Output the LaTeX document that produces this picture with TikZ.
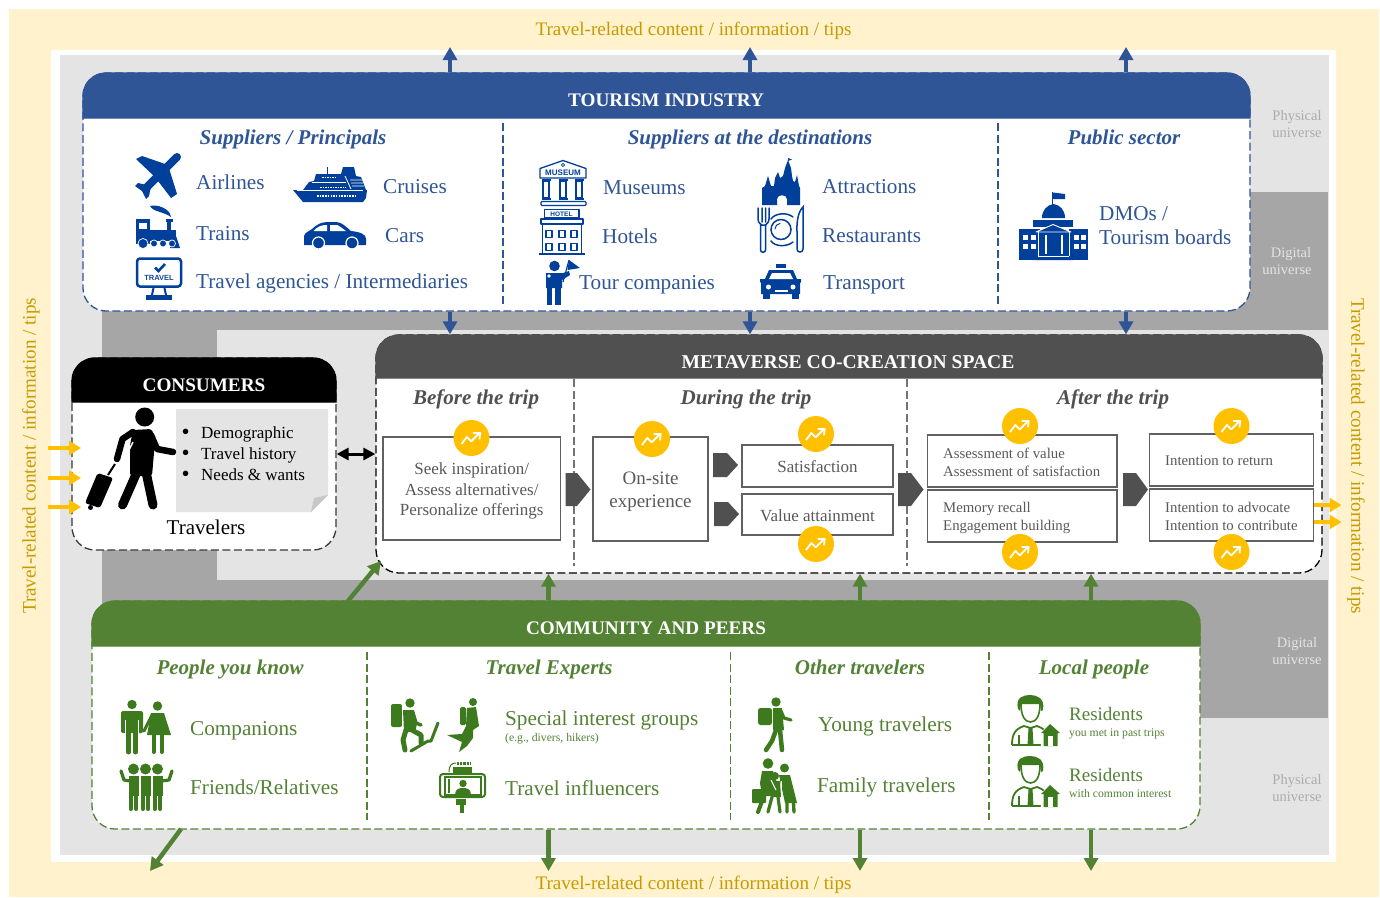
\documentclass[tikz,border=0pt]{standalone}
\usepackage{fontspec}
\setmainfont{Liberation Serif}
\newfontfamily\iconfont{Liberation Sans}
\usetikzlibrary{arrows.meta,calc,shapes.geometric}
\definecolor{tblue}{HTML}{2F5597}
\definecolor{iblue}{HTML}{00409A}
\definecolor{tgreen}{HTML}{548235}
\definecolor{igreen}{HTML}{3D7A1E}
\definecolor{mgray}{HTML}{505050}
\definecolor{boxtxt}{HTML}{595959}
\definecolor{goldt}{HTML}{C79A00}
\definecolor{ybg}{HTML}{FFF2CC}
\definecolor{yarrow}{HTML}{FFC000}
\definecolor{phys}{HTML}{E4E4E4}
\definecolor{digi}{HTML}{A6A6A6}
\newcommand\fz[2]{\fontsize{#1}{#2}\selectfont}
\newcommand\hdr[6]{\fill[#1,draw=#1,line width=1.3pt] (#2,#5) -- (#2,{#3+#6}) .. controls (#2,{#3+0.45*#6}) and ({#2+0.45*#6},#3) .. ({#2+#6},#3) -- ({#4-#6},#3) .. controls ({#4-0.45*#6},#3) and (#4,{#3+0.45*#6}) .. (#4,{#3+#6}) -- (#4,#5) -- cycle;}
\newcommand\trend[3]{\node[trendc] (#1) at (#2,#3) {};
  \begin{scope}[shift={(#2,#3)}]
  \draw[white,line width=1.8pt,line join=round] (-10,6) -- (-4.7,-1) -- (-0.3,3.3) -- (7.3,-4.3);
  \draw[white,line width=1.8pt,line join=round] (1.5,-5) -- (8.7,-5) -- (8,1.3);
  \end{scope}}
\newcommand\resident[1]{\begin{scope}[shift={(0,#1)}]
  \fill[igreen] (1018,709) .. controls (1015,697) and (1024,695) .. (1030,695) .. controls (1037,695) and (1045,698) .. (1043,710) -- (1041,711) -- (1040,704) -- (1021,704) -- (1020,711) -- cycle;
  \draw[igreen,line width=1.6pt] (1021,704) .. controls (1021,716) and (1025,722) .. (1030.5,722) .. controls (1036,722) and (1040,716) .. (1040,704);
  \draw[igreen,line width=1.8pt,line join=round] (1012,745) .. controls (1012,734) and (1015,729) .. (1024,726) -- (1030.5,728) -- (1037,726) .. controls (1043,728) and (1046,731) .. (1047,734);
  \draw[igreen,line width=1.8pt] (1012,745) -- (1044,745);
  \fill[igreen] (1028.5,728) -- (1032.5,728) -- (1033.5,745) -- (1027.5,745) -- cycle;
  \draw[igreen,line width=1.4pt] (1019,745) -- (1019,735);
  \fill[white] (1040,734) -- (1050,722) -- (1062,734) -- (1058,747) -- (1041,747) -- cycle;
  \fill[igreen] (1041,733) -- (1050,724) -- (1060,733) -- (1057.5,733) -- (1057.5,746) -- (1043.5,746) -- (1043.5,733) -- cycle;
  \fill[white] (1048,736) rectangle (1053,746);
  \end{scope}}
\tikzset{
  panel/.style={draw=#1,fill=white,line width=1.3pt,dash pattern=on 8pt off 3.5pt,rounded corners=23pt,inner sep=0pt},
  divider/.style={draw=#1,line width=1.2pt,dash pattern=on 8pt off 3.5pt},
  hd/.style={font=\bfseries\fz{19.2}{23},text=white,inner sep=0pt},
  sec/.style={font=\bfseries\itshape\fz{21}{25},inner sep=0pt,yshift=-2pt,execute at begin node=\strut},
  lbl/.style={font=\fz{21.2}{25},inner sep=0pt,anchor=west,yshift=-2pt,execute at begin node=\strut},
  small/.style={font=\fz{11.7}{14},inner sep=0pt,anchor=west,yshift=-2pt,execute at begin node=\strut},
  uni/.style={font=\fz{14.5}{17},inner sep=0pt,align=center},
  yellowtxt/.style={font=\fz{19.1}{23},text=goldt,inner sep=0pt},
  stagebox/.style={draw=#1,fill=white,line width=1.5pt,inner sep=0pt},
  stagetxt/.style={text=boxtxt,inner sep=0pt,align=center},
  lefttxt/.style={text=boxtxt,font=\fz{14.8}{18},align=left,inner sep=0pt,anchor=west},
  trendc/.style={circle,fill=yarrow,minimum size=36pt,inner sep=0pt},
  homep/.style={fill=mgray},
  bluearr/.style={draw=tblue,line width=4.5pt,-{Triangle[width=14pt,length=13pt]}},
  greenarr/.style={draw=tgreen,line width=4.5pt,-{Triangle[width=14pt,length=13pt]}},
  yelarr/.style={draw=yarrow,line width=4pt,-{Triangle[width=14pt,length=12pt]}},
  blackarr/.style={draw=black,line width=3pt,{Triangle[width=12pt,length=12pt]}-{Triangle[width=12pt,length=12pt]}},
  ib/.style={fill=iblue,draw=none},
  ig/.style={fill=igreen,draw=none},
}
\begin{document}
\begin{tikzpicture}[x=1pt,y=-1pt,line cap=butt]
\useasboundingbox (0,0) rectangle (1380,897);
% backgrounds
\fill[ybg] (9,9) rectangle (1379,897);
\fill[white] (51,50) rectangle (1336,862);
\fill[phys] (60,55) rectangle (1329,855);
\fill[digi] (102,192) rectangle (1328,718);
\fill[phys] (217,330) rectangle (1329,580);
% universe labels
\node[uni,text=phys!75!black] (p1) at (1297,124.5) {Physical\\universe};
\node[uni,text=phys] (d1a) at (1291,254) {Digital};
\node[uni,text=phys] (d1b) at (1287,269.5) {universe};
\node[uni,text=phys] (d2) at (1297,651.5) {Digital\\universe};
\node[uni,text=phys!75!black] (p2) at (1297,788.5) {Physical\\universe};
% outer texts
\node[yellowtxt] (ytop) at (693.5,31) {Travel-related content / information / tips};
\node[yellowtxt] (ybot) at (693.5,885) {Travel-related content / information / tips};
\node[yellowtxt,rotate=90] (yleft) at (31,456) {Travel-related content / information / tips};
\node[yellowtxt,rotate=-90] (yright) at (1356,456) {Travel-related content / information / tips};

% PANELS
\node[panel=tblue,minimum width=1167pt,minimum height=238pt] (tour) at (666.5,192) {};
\node[panel=mgray!70!black,minimum width=264pt,minimum height=192pt] (cons) at (204,454) {};
\node[panel=black,minimum width=946pt,minimum height=238pt] (meta) at (849,454) {};
\node[panel=tgreen,minimum width=1108pt,minimum height=228pt] (comm) at (646,715) {};
\hdr{tblue}{83}{73}{1250}{118}{23}
\hdr{black}{72}{358}{336}{402}{23}
\hdr{mgray}{376}{335}{1322}{378}{23}
\hdr{tgreen}{92}{601}{1200}{646}{23}
\node[hd] (tourh) at (666,100) {TOURISM INDUSTRY};
\node[hd] (consh) at (204,385) {CONSUMERS};
\node[hd,font=\bfseries\fz{19.6}{23}] (metah) at (848,362) {METAVERSE CO-CREATION SPACE};
\node[hd] (commh) at (646,628) {COMMUNITY AND PEERS};

% dividers
\draw[divider=tblue] (503,123) -- (503,305);
\draw[divider=tblue] (998,123) -- (998,305);
\draw[divider=mgray!80] (574,379) -- (574,566);
\draw[divider=mgray!80] (907,379) -- (907,566);
\draw[divider=tgreen] (367,652) -- (367,820);
\draw[divider=tgreen] (730.5,652) -- (730.5,820);
\draw[divider=tgreen] (989,652) -- (989,820);

% CONNECTORS
\coordinate (ta1) at (450,47);
\coordinate (ta2) at (750,47);
\coordinate (ta3) at (1126,47);
\draw[bluearr] (tour.north -| ta1) -- (ta1);
\draw[bluearr] (tour.north -| ta2) -- (ta2);
\draw[bluearr] (tour.north -| ta3) -- (ta3);
\draw[bluearr] (tour.south -| ta1) -- (meta.north -| ta1);
\draw[bluearr] (tour.south -| ta2) -- (meta.north -| ta2);
\draw[bluearr] (tour.south -| ta3) -- (meta.north -| ta3);
\draw[blackarr] (cons.east) -- (meta.west);
\coordinate (gu0a) at (348,601);
\coordinate (gu0) at (381,561);
\coordinate (gu1) at (548.5,574);
\coordinate (gu2) at (860,574);
\coordinate (gu3) at (1091,574);
\draw[greenarr] (gu0a) -- (gu0);
\draw[greenarr] (comm.north -| gu1) -- (meta.south -| gu1);
\draw[greenarr] (comm.north -| gu2) -- (meta.south -| gu2);
\draw[greenarr] (comm.north -| gu3) -- (meta.south -| gu3);
\coordinate (gd0a) at (181,829);
\coordinate (gd0) at (150,871);
\coordinate (gd1) at (548.5,871);
\coordinate (gd2) at (860,871);
\coordinate (gd3) at (1091,871);
\draw[greenarr] (gd0a) -- (gd0);
\draw[greenarr] (comm.south -| gd1) -- (gd1);
\draw[greenarr] (comm.south -| gd2) -- (gd2);
\draw[greenarr] (comm.south -| gd3) -- (gd3);
\coordinate (yl1a) at (48,448); \coordinate (yl1) at (81,448);
\coordinate (yl2a) at (48,478); \coordinate (yl2) at (81,478);
\coordinate (yl3a) at (48,507); \coordinate (yl3) at (81,507);
\draw[yelarr] (yl1a) -- (yl1);
\draw[yelarr] (yl2a) -- (yl2);
\draw[yelarr] (yl3a) -- (yl3);

% TOURISM text
\begin{scope}[text=tblue]
\node[sec] (s1) at (293,137) {Suppliers / Principals};
\node[sec] (s2) at (750,137) {Suppliers at the destinations};
\node[sec] (s3) at (1124,137) {Public sector};
\node[lbl] (airl) at (196,182) {Airlines};
\node[lbl] (crui) at (383,186) {Cruises};
\node[lbl] (trai) at (196,233) {Trains};
\node[lbl] (cars) at (385,235) {Cars};
\node[lbl] (agen) at (196,281.5) {Travel agencies / Intermediaries};
\node[lbl] (muse) at (603,187.5) {Museums};
\node[lbl] (attr) at (822,186.5) {Attractions};
\node[lbl] (hote) at (602,236) {Hotels};
\node[lbl] (rest) at (822,235) {Restaurants};
\node[lbl] (tcom) at (579,282) {Tour companies};
\node[lbl] (tran) at (823,282) {Transport};
\node[lbl] (dmo1) at (1099,213) {DMOs /};
\node[lbl] (dmo2) at (1099,237.5) {Tourism boards};
\end{scope}

% plane
\fill[ib] (136,159) -- (142,156) -- (168,165) -- (177,194) -- (171,198) -- (155,177) -- cycle;
\draw[iblue,line width=8pt,line cap=round] (177,157) -- (146,188);
\fill[ib] (135,186) -- (138,183) -- (151,186) -- (149,196) -- (146,199) -- (142,191) -- cycle;
% ship
\fill[ib] (293,190) -- (367,190) -- (366,198) -- (363,202) -- (303,202) -- cycle;
\fill[ib] (303,190) -- (309,182) -- (314,181) -- (316,174) -- (341,174) -- (343,167) -- (354,167) -- (356,176) -- (361,177) -- (366,190) -- cycle;
\draw[iblue,line width=1pt] (327,167) -- (327,174);
\draw[white,line width=1.5pt,dash pattern=on 1.5pt off 1.2pt] (317,196) -- (357,196);
\draw[white,line width=1pt,dash pattern=on 1.5pt off 1pt] (320,187) -- (346,187);
\draw[white,line width=1pt] (312,182.5) -- (346,182.5);
\draw[white,line width=1pt,dash pattern=on 1.5pt off 1pt] (322,177.5) -- (336,177.5);
\draw[white,line width=.8pt] (350,180) -- (362,180) (351,183) -- (363,183) (352,186) -- (364,186) (345,176) -- (351,189);
\draw[white,line width=1pt] (297,190.3) -- (363,190.3);
% train
\fill[ib] (136,219) rectangle (150,244);
\fill[white] (139,223) rectangle (147,229);
\fill[ib] (150,230) rectangle (176,241);
\fill[ib] (167,220) rectangle (171,231);
\fill[ib] (165.5,219) rectangle (172.5,221.5);
\fill[ib] (150,206) .. controls (156,204) and (170,208) .. (171,217) .. controls (165,212) and (153,212) .. cycle;
\fill[ib] (170,241) -- (176,236) -- (180,248) -- (170,248) -- cycle;
\foreach \cx/\cr in {143/5,154/3.5,163/3.5,172/3.5}{\fill[iblue,draw=white,line width=.7pt] (\cx,243.5) circle (\cr);}
% car
\fill[ib] (304,236) .. controls (305,232) and (310,231) .. (312,229) .. controls (317,224) and (322,222) .. (328,222) -- (336,222) .. controls (342,222) and (346,227) .. (351,231) .. controls (360,232) and (366,234) .. (366,239) -- (366,245) -- (304,245) -- cycle;
\fill[white] (313.5,231) .. controls (318,226) and (322,225) .. (327,225) -- (327,231) -- cycle;
\fill[white] (330,225) -- (337,225) .. controls (340,226) and (343,229) .. (346,231) -- (330,231) -- cycle;
\foreach \cx in {318.5,352}{\fill[iblue,draw=white,line width=1.2pt] (\cx,243) circle (6);}
% monitor
\draw[iblue,line width=2.5pt,rounded corners=3pt] (137,258.5) rectangle (181,286.5);
\draw[iblue,line width=2.6pt] (155,267.5) -- (158.5,271) -- (165,264);
\node[font=\iconfont\bfseries\fz{7.5}{9},text=iblue!70!tblue,inner sep=0pt] (travi) at (159,277.5) {TRAVEL};
\draw[iblue,line width=2pt] (152,295) -- (153.5,288) (166,295) -- (164.5,288);
\fill[ib] (146,295) rectangle (172,300);
% museum
\begin{scope}[iblue,line width=1.3pt,line join=round]
\draw (540,168.5) -- (563,160.5) -- (586,168.5) -- (586,178) -- (540,178) -- cycle;
\draw[line width=.8pt] (563,165) circle (1.6);
\node[font=\iconfont\bfseries\fz{8}{9},text=iblue,inner sep=0pt] (musi) at (563,172.7) {MUSEUM};
\foreach \cx in {546,563,579}{\draw (\cx-3,181) rectangle (\cx+3,198);\draw (\cx-4.5,180) -- (\cx+4.5,180);\draw (\cx-4.5,199) -- (\cx+4.5,199);}
\draw[rounded corners=1pt] (541,201.5) rectangle (586,205.5);
% hotel
\draw (544.5,209.5) rectangle (579,218);
\node[font=\iconfont\bfseries\fz{6.5}{8},text=iblue,inner sep=0pt] (hoti) at (561.5,213.8) {HOTEL};
\draw (541,219) rectangle (583,224);
\draw (542.5,224) -- (542.5,254) (581.5,224) -- (581.5,254);
\draw[line width=1.5pt] (539,254) -- (585,254);
\foreach \wx in {549,562,574}{\foreach \wy in {234,247}{\draw (\wx-3,\wy-3.5) rectangle (\wx+3,\wy+3.5);}}
\end{scope}
% guide
\fill[ib] (554.5,266) circle (5.3);
\fill[ib] (546,273) -- (563,273) -- (569,271) -- (570,275) -- (562,280) -- (562,288) -- (546,288) -- cycle;
\draw[iblue,line width=5.5pt] (549.5,287) -- (549.5,305) (558,287) -- (558,305);
\fill[white] (549,276) circle (1.8);
\draw[iblue,line width=1.2pt] (563,282) -- (569,260);
\fill[ib] (569,260) -- (580,268) -- (567.5,270) -- cycle;
% castle
\fill[ib] (762,205) -- (762,188) -- (765,186) -- (768,176) -- (771,186) -- (774,186) -- (775,178) -- (778,172) -- (780,178) -- (783,176) -- (785,168) -- (788,160) -- (791,168) -- (792,176) -- (793,181) -- (795,182) -- (797,175) -- (799,186) -- (800,188) -- (800,205) -- (787,205) -- (787,199) .. controls (787,194) and (777,194) .. (777,199) -- (777,205) -- cycle;
\fill[ib] (788,158) -- (792,159.5) -- (788,161) -- cycle;
% restaurant
\begin{scope}[iblue,line width=1.5pt,line cap=round]
\draw (758,208) -- (758,219) .. controls (758,223) and (761,224) .. (761.5,225) (762,208) -- (762,222) (765.5,208) -- (765.5,222) (769,208) -- (769,219) .. controls (769,223) and (766,224) .. (765.5,225);
\draw (760.5,225) -- (760.5,250) .. controls (760.5,253) and (765.5,253) .. (765.5,250) -- (765.5,225) -- cycle;
\draw (771,219) .. controls (775,213) and (787,212) .. (793,217);
\draw (771,241) .. controls (775,247) and (787,247) .. (793,242);
\draw (781,229.5) circle (10);
\draw[line width=1pt] (775,229) .. controls (775,226) and (777,224) .. (780,223.5);
\draw (803,207) .. controls (798,212) and (796.5,222) .. (797,232) -- (797,249) .. controls (797,253) and (803,253) .. (803,249) -- cycle;
\end{scope}
% taxi
\fill[ib] (776,263.5) rectangle (786,267.5);
\fill[ib] (769,270) -- (793,270) -- (797,279) -- (801,279) -- (801,282) -- (800,283) -- (800,294) -- (761,294) -- (761,283) -- (760,282) -- (760,279) -- (765,279) -- cycle;
\fill[ib] (763,293) rectangle (770,298.5);
\fill[ib] (791.5,293) rectangle (798.5,298.5);
\fill[white] (772,273) -- (790,273) -- (793,279) -- (769,279) -- cycle;
\fill[white] (768.5,287) circle (2.5);
\fill[white] (793,287) circle (2.5);
\fill[white] (774.5,290) rectangle (787.5,292);
% capitol
\draw[iblue,line width=1.3pt] (1052.5,192) -- (1052.5,206);
\fill[ib] (1053,192.5) -- (1065,194) -- (1065,199) -- (1053,199) -- cycle;
\fill[ib] (1042,218) .. controls (1042,210) and (1047,205) .. (1053.5,204) .. controls (1060,205) and (1065,210) .. (1065,218) -- cycle;
\fill[ib] (1033,220) rectangle (1073,227);
\fill[ib] (1019,229) rectangle (1040,260);
\fill[ib] (1069,229) rectangle (1088,260);
\fill[ib] (1036,232) -- (1053,224.5) -- (1071,232) -- (1071,257) -- (1036,257) -- cycle;
\fill[ib] (1033,260) -- (1038,255) -- (1068,255) -- (1073,260) -- cycle;
\draw[white,line width=.9pt,line join=round] (1036,232) -- (1053,224.5) -- (1071,232) -- cycle;
\draw[white,line width=2.5pt] (1046,235) -- (1046,254) (1062,235) -- (1062,254);
\draw[white,line width=1pt] (1038,232) -- (1038,256) (1069,232) -- (1069,256) (1038,256) -- (1069,256);
\foreach \wx in {1023,1031,1074,1081}{\foreach \wy in {235,244}{\fill[white] (\wx,\wy) rectangle (\wx+4.5,\wy+5);}}

% CONSUMERS content
\fill[phys] (176,409) -- (328,409) -- (328,495) -- (311,512) -- (176,512) -- cycle;
\fill[black!22] (328,495) -- (311,512) -- (314,498) -- cycle;
\node[font=\fz{17}{21},text=black,align=left,inner sep=0pt,anchor=north west] (needs) at (181.5,426) {\makebox[19.5pt][l]{\raisebox{-1.5pt}{\fz{23}{21}\textbullet}}Demographic\\\makebox[19.5pt][l]{\raisebox{-1.5pt}{\fz{23}{21}\textbullet}}Travel history\\\makebox[19.5pt][l]{\raisebox{-1.5pt}{\fz{23}{21}\textbullet}}Needs \& wants};
\node[font=\fz{21}{25},text=black,inner sep=0pt] (trav) at (206,527) {Travelers};
% traveler icon
\fill[black] (144.7,417) circle (9.5);
\fill[black,rounded corners=3pt] (133,430) -- (152,429) -- (155,441) -- (152,476) -- (130,476) -- (130,445) -- cycle;
\draw[black,line width=9pt,line cap=round] (137,472) -- (122.5,505);
\draw[black,line width=9pt,line cap=round] (146,472) -- (153,505);
\draw[black,line width=6.5pt,line cap=round,line join=round] (151,435) -- (157,449) -- (173,452);
\draw[black,line width=6.5pt,line cap=round,line join=round] (133,432) -- (122.5,439) -- (117,459);
\draw[white,line width=1.5pt] (133,442) -- (126,456);
\fill[black,rounded corners=2pt] (97.6,473) -- (113,478) -- (100,508) -- (85,503) -- cycle;
\draw[black,line width=2pt] (108,475) -- (115,464);
\fill[black] (90.5,507.5) circle (2.5);

% META boxes
\node[stagebox=mgray!90,minimum width=177.5pt,minimum height=103pt] (seek) at (471.7,488.5) {};
\node[stagetxt,font=\fz{17}{20.5}] (seekt) at (471.7,491) {Seek inspiration/\\Assess alternatives/\\Personalize offerings};
\node[stagebox=mgray!90,minimum width=115pt,minimum height=104pt] (onsite) at (650.5,489) {};
\node[stagetxt,font=\fz{19}{23}] (onsitet) at (650.5,492) {On-site\\experience};
\node[stagebox=mgray!90,minimum width=151pt,minimum height=42pt] (sat) at (817.5,466) {};
\node[stagetxt,font=\fz{17}{20}] (satt) at (817.5,467) {Satisfaction};
\node[stagebox=mgray!90,minimum width=151pt,minimum height=41pt] (val) at (817.5,514.5) {};
\node[stagetxt,font=\fz{17}{20}] (valt) at (817.5,515.5) {Value attainment};
\node[stagebox=mgray!90,minimum width=189.5pt,minimum height=52pt] (ass) at (1022,461) {};
\node[lefttxt] (asst) at (943,462.5) {Assessment of value\\Assessment of satisfaction};
\node[stagebox=mgray!90,minimum width=189.5pt,minimum height=52pt] (mem) at (1022,516) {};
\node[lefttxt] (memt) at (943,517.5) {Memory recall\\Engagement building};
\node[stagebox=mgray!90,minimum width=164pt,minimum height=52pt] (ret) at (1231.5,460) {};
\node[lefttxt] (rett) at (1165,461) {Intention to return};
\node[stagebox=mgray!90,minimum width=164pt,minimum height=52pt] (adv) at (1231.5,515) {};
\node[lefttxt] (advt) at (1165,516.5) {Intention to advocate\\Intention to contribute};
\begin{scope}[text=mgray]
\node[sec] (b1) at (476,397) {Before the trip};
\node[sec] (b2) at (746,397) {During the trip};
\node[sec] (b3) at (1113,397) {After the trip};
\end{scope}
% home plates
\fill[homep] (565.5,473) -- (577,473) -- (590.5,489.5) -- (577,506) -- (565.5,506) -- cycle;
\fill[homep] (713,453) -- (727,453) -- (738,465) -- (727,477) -- (713,477) -- cycle;
\fill[homep] (714,502) -- (728,502) -- (739,514) -- (728,526) -- (714,526) -- cycle;
\fill[homep] (898,473) -- (911,473) -- (923.5,489.5) -- (911,506) -- (898,506) -- cycle;
\fill[homep] (1123,473) -- (1136,473) -- (1148,489.5) -- (1136,506) -- (1123,506) -- cycle;
% circles
\trend{c1}{471.5}{438}
\trend{c2}{652}{439}
\trend{c3}{816}{434}
\trend{c4}{816}{544}
\trend{c5}{1020}{426}
\trend{c6}{1020}{552}
\trend{c7}{1231.5}{426}
\trend{c8}{1231.5}{552}
% right yellow arrows
\coordinate (yr1) at (1341.5,505);
\coordinate (yr2) at (1341.5,522);
\draw[yelarr] (adv.east |- yr1) -- (yr1);
\draw[yelarr] (adv.east |- yr2) -- (yr2);

% COMMUNITY text
\begin{scope}[text=tgreen]
\node[sec] (g1) at (230,667) {People you know};
\node[sec] (g2) at (549,667) {Travel Experts};
\node[sec] (g3) at (860,667) {Other travelers};
\node[sec] (g4) at (1094,667) {Local people};
\node[lbl] (comp) at (190,728.5) {Companions};
\node[lbl] (frie) at (190,787.5) {Friends/Relatives};
\node[lbl] (spec) at (505,718.5) {Special interest groups};
\node[small] (eg) at (505,737) {(e.g., divers, hikers)};
\node[lbl] (infl) at (505,788.5) {Travel influencers};
\node[lbl] (youn) at (818,724.5) {Young travelers};
\node[lbl] (fami) at (817,785.5) {Family travelers};
\node[lbl,font=\fz{19}{23}] (res1) at (1069,714) {Residents};
\node[small] (res1b) at (1069,732) {you met in past trips};
\node[lbl,font=\fz{19}{23}] (res2) at (1069,775) {Residents};
\node[small] (res2b) at (1069,792.5) {with common interest};
\end{scope}
% couple
\fill[ig] (132,704.5) circle (4.7);
\fill[ig,rounded corners=1.5pt] (121,711) rectangle (143,733);
\fill[white] (125,720) rectangle (126,738);
\fill[white] (138,720) rectangle (139,738);
\draw[igreen,line width=5pt,line cap=round] (128.5,733) -- (128.5,752) (135.5,733) -- (135.5,752);
\fill[white] (121,733) rectangle (125,740);
\fill[ig] (157.5,706) circle (4.7);
\fill[ig] (151,713) -- (164,713) -- (171,735) -- (147,735) -- cycle;
\draw[igreen,line width=4pt,line cap=round] (153.5,735) -- (153.5,752) (161.5,735) -- (161.5,752);
\draw[igreen,line width=3pt,line cap=round] (152,715) -- (144,731);
% group
\foreach \gx in {133.5,145.5,157.5}{
\fill[ig] (\gx,769) circle (5.5);
\fill[ig] (\gx-5,776) rectangle (\gx+5,796);
\draw[igreen,line width=4pt,line cap=round] (\gx-2.6,795) -- (\gx-2.6,809) (\gx+2.6,795) -- (\gx+2.6,809);
}
\draw[white,line width=1pt] (139.5,776) -- (139.5,811) (151.5,776) -- (151.5,811);
\draw[igreen,line width=3.2pt,line cap=round,line join=round] (121,771) -- (124,780) -- (130,781);
\draw[igreen,line width=3.2pt,line cap=round,line join=round] (172,771) -- (169,780) -- (161,781);
% hiker
\fill[ig] (410,703) circle (4.7);
\fill[ig,rounded corners=2pt] (391,704) rectangle (402,727);
\fill[ig] (403,710) -- (414,710) -- (417,724) -- (415,732) -- (404,732) -- cycle;
\draw[white,line width=1pt] (402.5,706) -- (402.5,728);
\draw[igreen,line width=3.5pt,line cap=round,line join=round] (413,713) -- (416,723) -- (421,725);
\draw[igreen,line width=5pt,line cap=round,line join=round] (406,730) -- (403,740) -- (405,750);
\draw[igreen,line width=5pt,line cap=round,line join=round] (412,730) -- (421,735) -- (421,743);
\draw[igreen,line width=3pt,line cap=round,line join=round] (411,751) -- (428,741) -- (431,741) -- (438,723);
% diver
\fill[ig] (473,702) circle (4);
\fill[ig,rounded corners=1.5pt] (460,707) rectangle (466,725);
\fill[ig] (467,708) -- (476,707) -- (479,726) -- (473,730) -- (473,738) -- (467,746) -- (459,752) -- (462,742) -- (447,735) -- (462,734) -- (466,726) -- cycle;
% selfie
\draw[igreen,line width=2pt,rounded corners=3pt] (440,774) rectangle (485,797);
\fill[ig] (453,767) rectangle (472,773);
\fill[ig] (456,799) rectangle (466,805);
\fill[ig] (459.5,805) rectangle (463.5,813);
\fill[ig] (463,783.5) circle (3.7);
\fill[ig] (455,795) .. controls (455,789) and (459,788) .. (463,788) .. controls (467,788) and (471,789) .. (471,795) -- cycle;
\draw[igreen,line width=1.2pt] (445,777) rectangle (481,795);
\draw[igreen,line width=2pt] (449,779) -- (449,793);
\draw[igreen,line width=3pt,dash pattern=on 2.2pt off 1pt] (457,763) -- (470,763);
\draw[igreen,line width=1pt] (449,772) .. controls (449,765) and (452,763) .. (456,763);
% young traveler
\fill[ig] (776,702) circle (4.7);
\fill[ig,rounded corners=2.5pt] (758,708) rectangle (772,725);
\fill[ig] (773,708) -- (782,708) -- (784,730) -- (773,730) -- cycle;
\draw[igreen,line width=3.2pt,line cap=round,line join=round] (781,711) -- (784,718) -- (791,720);
\draw[igreen,line width=4.5pt,line cap=round,line join=round] (776,730) -- (772,741) -- (766,750);
\draw[igreen,line width=4.5pt,line cap=round,line join=round] (780,730) -- (782,750);
% family
\fill[ig] (768,763.5) circle (5.3);
\fill[ig] (762,771) -- (773,771) -- (777,783) -- (772,792) -- (772,796) -- (762,796) -- (760,783) -- cycle;
\fill[ig,rounded corners=1pt] (752,789) rectangle (766,803);
\draw[igreen,line width=4pt,line cap=round] (764,796) -- (758,812);
\fill[ig] (775,776) circle (4);
\fill[ig] (771,781) -- (780,781) -- (781,797) -- (771,797) -- cycle;
\draw[igreen,line width=3.2pt,line cap=round] (772,797) -- (768,812) (778,797) -- (780,812);
\fill[ig] (784.5,768) circle (4.5);
\fill[ig] (779,775) -- (790,775) -- (797,803) -- (785,803) -- cycle;
\draw[igreen,line width=3.4pt,line cap=round] (787,803) -- (787,812) (793.5,803) -- (794,812);
\draw[white,line width=1pt] (771,780) -- (776,790);
\draw[white,line width=.9pt] (781,781) -- (781,797);
% residents
\resident{0}
\resident{61}
\end{tikzpicture}
\end{document}
